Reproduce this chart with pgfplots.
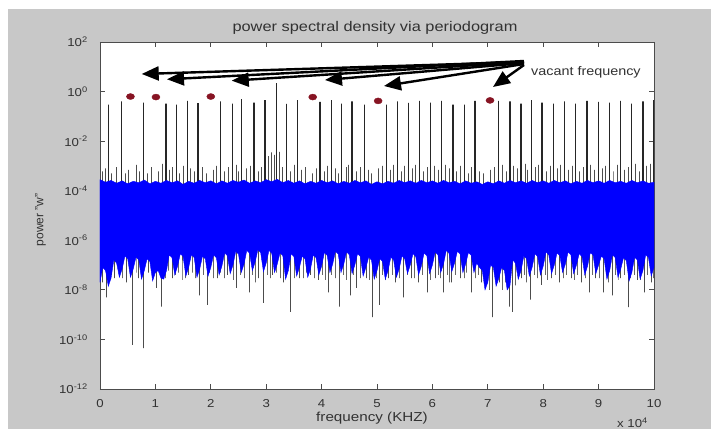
\documentclass[border=0pt]{standalone}
\usepackage{fontspec}
\setmainfont{Liberation Sans}
\usepackage{pgfplots}
\pgfplotsset{compat=1.18}
\usetikzlibrary{arrows.meta}
\definecolor{figgray}{RGB}{200,200,200}
\definecolor{txt}{RGB}{50,50,50}
\definecolor{dotred}{RGB}{135,20,35}
\newcommand\hs[2][1.15]{\scalebox{#1}[1]{#2}}
% pixel frame of the 711x429 figure
\tikzset{px/.style={x=1bp,y=-1bp,shift={(-100bp,389bp)}}}

\begin{document}
\begin{tikzpicture}
\clip (-100bp,-40bp) rectangle (611bp,389bp);
\begin{scope}[px]
  \fill[white] (0,0) rectangle (711,429);
  \fill[figgray] (8,9) rectangle (711,429);
  \node[anchor=base, inner sep=0pt, text=txt, font=\fontsize{14bp}{16bp}\selectfont]
    at (375,32) {\hs[1.17]{power spectral density via periodogram}};
  \node[anchor=base, inner sep=0pt, text=txt, font=\fontsize{13bp}{15bp}\selectfont]
    at (372,422) {\hs[1.17]{frequency (KHZ)}};
  \node[anchor=base, rotate=90, inner sep=0pt, text=txt, font=\fontsize{12bp}{14bp}\selectfont]
    at (43.5,220) {power "w"};
  \node[anchor=base west, inner sep=0pt, text=txt, font=\fontsize{11.5bp}{13bp}\selectfont]
    at (617,428) {\hs{x 10\textsuperscript{4}}};
\end{scope}

\begin{axis}[
    scale only axis,
    width=554bp, height=347bp,
    xmin=0, xmax=10,
    ymode=log, ymin=1e-12, ymax=1e2,
    xtick={0,1,...,10},
    xticklabels={\hs{0},\hs{1},\hs{2},\hs{3},\hs{4},\hs{5},\hs{6},\hs{7},\hs{8},\hs{9},\hs{10}},
    ytick={1e-12,1e-10,1e-8,1e-6,1e-4,1e-2,1,1e2},
    yticklabels={\hs{10\textsuperscript{-12}},\hs{10\textsuperscript{-10}},\hs{10\textsuperscript{-8}},\hs{10\textsuperscript{-6}},\hs{10\textsuperscript{-4}},\hs{10\textsuperscript{-2}},\hs{10\textsuperscript{0}},\hs{10\textsuperscript{2}}},
    yminorticks=false,
    axis background/.style={fill=white},
    axis line style={black!70, line width=0.8bp},
    every tick/.style={black!70, line width=0.8bp},
    major tick length=5bp,
    tick label style={font=\fontsize{11.5bp}{13bp}\selectfont, text=txt},
    xticklabel style={anchor=base, inner sep=0pt, yshift=-18bp},
    yticklabel style={anchor=east, inner sep=0pt, xshift=-12bp},
]
% carrier spikes
\addplot[black!85, line width=1.2bp, line join=bevel] coordinates {
 (0.16,1e-5) (0.16,0.30) (0.16,1e-5)
 (0.39,1e-5) (0.39,0.40) (0.39,1e-5)
 (0.79,1e-5) (0.79,0.36) (0.79,1e-5)
 (1.19,1e-5) (1.19,0.33) (1.19,1e-5)
 (1.38,1e-5) (1.38,0.30) (1.38,1e-5)
 (1.58,1e-5) (1.58,0.42) (1.58,1e-5)
 (1.77,1e-5) (1.77,0.34) (1.77,1e-5)
 (2.17,1e-5) (2.17,0.40) (2.17,1e-5)
 (2.39,1e-5) (2.39,0.33) (2.39,1e-5)
 (2.56,1e-5) (2.56,0.50) (2.56,1e-5)
 (2.78,1e-5) (2.78,0.36) (2.78,1e-5)
 (2.98,1e-5) (2.98,0.45) (2.98,1e-5)
 (3.18,1e-5) (3.18,2.2) (3.18,1e-5)
 (3.37,1e-5) (3.37,0.32) (3.37,1e-5)
 (3.57,1e-5) (3.57,0.45) (3.57,1e-5)
 (3.97,1e-5) (3.97,0.38) (3.97,1e-5)
 (4.18,1e-5) (4.18,0.45) (4.18,1e-5)
 (4.36,1e-5) (4.36,0.33) (4.36,1e-5)
 (4.55,1e-5) (4.55,0.40) (4.55,1e-5)
 (4.77,1e-5) (4.77,0.30) (4.77,1e-5)
 (5.17,1e-5) (5.17,0.30) (5.17,1e-5)
 (5.37,1e-5) (5.37,0.40) (5.37,1e-5)
 (5.57,1e-5) (5.57,0.35) (5.57,1e-5)
 (5.76,1e-5) (5.76,0.42) (5.76,1e-5)
 (5.97,1e-5) (5.97,0.36) (5.97,1e-5)
 (6.17,1e-5) (6.17,0.42) (6.17,1e-5)
 (6.37,1e-5) (6.37,0.30) (6.37,1e-5)
 (6.58,1e-5) (6.58,0.30) (6.58,1e-5)
 (6.77,1e-5) (6.77,0.42) (6.77,1e-5)
 (7.20,1e-5) (7.20,0.42) (7.20,1e-5)
 (7.40,1e-5) (7.40,0.40) (7.40,1e-5)
 (7.60,1e-5) (7.60,0.33) (7.60,1e-5)
 (7.79,1e-5) (7.79,0.45) (7.79,1e-5)
 (7.98,1e-5) (7.98,0.36) (7.98,1e-5)
 (8.18,1e-5) (8.18,0.33) (8.18,1e-5)
 (8.38,1e-5) (8.38,0.40) (8.38,1e-5)
 (8.59,1e-5) (8.59,0.33) (8.59,1e-5)
 (8.79,1e-5) (8.79,0.42) (8.79,1e-5)
 (9.00,1e-5) (9.00,0.38) (9.00,1e-5)
 (9.19,1e-5) (9.19,0.36) (9.19,1e-5)
 (9.40,1e-5) (9.40,0.42) (9.40,1e-5)
 (9.60,1e-5) (9.60,0.33) (9.60,1e-5)
 (9.80,1e-5) (9.80,0.40) (9.80,1e-5)
 (9.99,1e-5) (9.99,0.45) (9.99,1e-5)
};
% small peaks above the noise floor
\addplot[black!70, line width=0.7bp, line join=bevel] coordinates {
 (0.04,1e-5) (0.04,6e-4) (0.04,1e-5)
 (0.09,1e-5) (0.09,8e-4) (0.09,1e-5)
 (0.21,1e-5) (0.21,5e-4) (0.21,1e-5)
 (0.30,1e-5) (0.30,9e-4) (0.30,1e-5)
 (0.45,1e-5) (0.45,5e-4) (0.45,1e-5)
 (0.52,1e-5) (0.52,7e-4) (0.52,1e-5)
 (0.66,1e-5) (0.66,1.1e-3) (0.66,1e-5)
 (0.71,1e-5) (0.71,6e-4) (0.71,1e-5)
 (0.85,1e-5) (0.85,5e-4) (0.85,1e-5)
 (0.93,1e-5) (0.93,9e-4) (0.93,1e-5)
 (1.05,1e-5) (1.05,6e-4) (1.05,1e-5)
 (1.12,1e-5) (1.12,1.2e-3) (1.12,1e-5)
 (1.25,1e-5) (1.25,7e-4) (1.25,1e-5)
 (1.31,1e-5) (1.31,9e-4) (1.31,1e-5)
 (1.44,1e-5) (1.44,5e-4) (1.44,1e-5)
 (1.50,1e-5) (1.50,1.0e-3) (1.50,1e-5)
 (1.63,1e-5) (1.63,8e-4) (1.63,1e-5)
 (1.70,1e-5) (1.70,6e-4) (1.70,1e-5)
 (1.85,1e-5) (1.85,9e-4) (1.85,1e-5)
 (1.92,1e-5) (1.92,5e-4) (1.92,1e-5)
 (2.04,1e-5) (2.04,7e-4) (2.04,1e-5)
 (2.10,1e-5) (2.10,1.0e-3) (2.10,1e-5)
 (2.24,1e-5) (2.24,6e-4) (2.24,1e-5)
 (2.31,1e-5) (2.31,9e-4) (2.31,1e-5)
 (2.46,1e-5) (2.46,1.1e-3) (2.46,1e-5)
 (2.50,1e-5) (2.50,6e-4) (2.50,1e-5)
 (2.64,1e-5) (2.64,8e-4) (2.64,1e-5)
 (2.71,1e-5) (2.71,1.0e-3) (2.71,1e-5)
 (2.86,1e-5) (2.86,6e-4) (2.86,1e-5)
 (2.92,1e-5) (2.92,9e-4) (2.92,1e-5)
 (3.04,1e-5) (3.04,2.5e-3) (3.04,1e-5)
 (3.10,1e-5) (3.10,3.5e-3) (3.10,1e-5)
 (3.14,1e-5) (3.14,2.8e-3) (3.14,1e-5)
 (3.24,1e-5) (3.24,3.7e-3) (3.24,1e-5)
 (3.30,1e-5) (3.30,9e-4) (3.30,1e-5)
 (3.44,1e-5) (3.44,6e-4) (3.44,1e-5)
 (3.50,1e-5) (3.50,1.1e-3) (3.50,1e-5)
 (3.64,1e-5) (3.64,7e-4) (3.64,1e-5)
 (3.71,1e-5) (3.71,9e-4) (3.71,1e-5)
 (3.84,1e-5) (3.84,5e-4) (3.84,1e-5)
 (3.90,1e-5) (3.90,8e-4) (3.90,1e-5)
 (4.05,1e-5) (4.05,6e-4) (4.05,1e-5)
 (4.11,1e-5) (4.11,1.0e-3) (4.11,1e-5)
 (4.25,1e-5) (4.25,8e-4) (4.25,1e-5)
 (4.30,1e-5) (4.30,5e-4) (4.30,1e-5)
 (4.44,1e-5) (4.44,9e-4) (4.44,1e-5)
 (4.49,1e-5) (4.49,1.1e-3) (4.49,1e-5)
 (4.62,1e-5) (4.62,6e-4) (4.62,1e-5)
 (4.70,1e-5) (4.70,9e-4) (4.70,1e-5)
 (4.84,1e-5) (4.84,7e-4) (4.84,1e-5)
 (4.90,1e-5) (4.90,5e-4) (4.90,1e-5)
 (5.03,1e-5) (5.03,8e-4) (5.03,1e-5)
 (5.10,1e-5) (5.10,1.0e-3) (5.10,1e-5)
 (5.24,1e-5) (5.24,7e-4) (5.24,1e-5)
 (5.30,1e-5) (5.30,1.1e-3) (5.30,1e-5)
 (5.44,1e-5) (5.44,6e-4) (5.44,1e-5)
 (5.50,1e-5) (5.50,1.0e-3) (5.50,1e-5)
 (5.64,1e-5) (5.64,8e-4) (5.64,1e-5)
 (5.70,1e-5) (5.70,1.1e-3) (5.70,1e-5)
 (5.84,1e-5) (5.84,6e-4) (5.84,1e-5)
 (5.90,1e-5) (5.90,9e-4) (5.90,1e-5)
 (6.04,1e-5) (6.04,1.0e-3) (6.04,1e-5)
 (6.10,1e-5) (6.10,7e-4) (6.10,1e-5)
 (6.24,1e-5) (6.24,1.1e-3) (6.24,1e-5)
 (6.30,1e-5) (6.30,8e-4) (6.30,1e-5)
 (6.44,1e-5) (6.44,6e-4) (6.44,1e-5)
 (6.51,1e-5) (6.51,1.0e-3) (6.51,1e-5)
 (6.65,1e-5) (6.65,5e-4) (6.65,1e-5)
 (6.71,1e-5) (6.71,9e-4) (6.71,1e-5)
 (6.85,1e-5) (6.85,6e-4) (6.85,1e-5)
 (6.92,1e-5) (6.92,5e-4) (6.92,1e-5)
 (7.05,1e-5) (7.05,7e-4) (7.05,1e-5)
 (7.12,1e-5) (7.12,9e-4) (7.12,1e-5)
 (7.27,1e-5) (7.27,1.1e-3) (7.27,1e-5)
 (7.33,1e-5) (7.33,6e-4) (7.33,1e-5)
 (7.47,1e-5) (7.47,1.0e-3) (7.47,1e-5)
 (7.53,1e-5) (7.53,8e-4) (7.53,1e-5)
 (7.67,1e-5) (7.67,1.2e-3) (7.67,1e-5)
 (7.72,1e-5) (7.72,7e-4) (7.72,1e-5)
 (7.86,1e-5) (7.86,9e-4) (7.86,1e-5)
 (7.92,1e-5) (7.92,1.1e-3) (7.92,1e-5)
 (8.06,1e-5) (8.06,6e-4) (8.06,1e-5)
 (8.12,1e-5) (8.12,1.0e-3) (8.12,1e-5)
 (8.25,1e-5) (8.25,8e-4) (8.25,1e-5)
 (8.31,1e-5) (8.31,1.1e-3) (8.31,1e-5)
 (8.45,1e-5) (8.45,7e-4) (8.45,1e-5)
 (8.52,1e-5) (8.52,1.0e-3) (8.52,1e-5)
 (8.66,1e-5) (8.66,6e-4) (8.66,1e-5)
 (8.72,1e-5) (8.72,9e-4) (8.72,1e-5)
 (8.86,1e-5) (8.86,1.1e-3) (8.86,1e-5)
 (8.92,1e-5) (8.92,7e-4) (8.92,1e-5)
 (9.06,1e-5) (9.06,8e-4) (9.06,1e-5)
 (9.13,1e-5) (9.13,1.0e-3) (9.13,1e-5)
 (9.26,1e-5) (9.26,6e-4) (9.26,1e-5)
 (9.33,1e-5) (9.33,1.1e-3) (9.33,1e-5)
 (9.47,1e-5) (9.47,7e-4) (9.47,1e-5)
 (9.53,1e-5) (9.53,9e-4) (9.53,1e-5)
 (9.67,1e-5) (9.67,1.2e-3) (9.67,1e-5)
 (9.73,1e-5) (9.73,6e-4) (9.73,1e-5)
 (9.86,1e-5) (9.86,1.0e-3) (9.86,1e-5)
 (9.93,1e-5) (9.93,1.2e-3) (9.93,1e-5)
};
% deep dips below the noise floor
\addplot[black!70, line width=0.7bp, line join=bevel] coordinates {
 (0.05,1e-6) (0.05,2e-8) (0.05,1e-6)
 (0.12,1e-6) (0.12,5e-9) (0.12,1e-6)
 (0.20,1e-6) (0.20,4e-8) (0.20,1e-6)
 (0.26,1e-6) (0.26,3e-8) (0.26,1e-6)
 (0.48,1e-6) (0.48,2e-8) (0.48,1e-6)
 (0.59,1e-6) (0.59,6e-11) (0.59,1e-6)
 (0.70,1e-6) (0.70,3e-8) (0.70,1e-6)
 (0.79,1e-6) (0.79,4.5e-11) (0.79,1e-6)
 (0.88,1e-6) (0.88,5e-8) (0.88,1e-6)
 (1.02,1e-6) (1.02,1.2e-8) (1.02,1e-6)
 (1.11,1e-6) (1.11,2.1e-9) (1.11,1e-6)
 (1.30,1e-6) (1.30,3e-8) (1.30,1e-6)
 (1.48,1e-6) (1.48,2.5e-8) (1.48,1e-6)
 (1.60,1e-6) (1.60,4e-8) (1.60,1e-6)
 (1.79,1e-6) (1.79,6e-9) (1.79,1e-6)
 (1.93,1e-6) (1.93,2.5e-9) (1.93,1e-6)
 (2.12,1e-6) (2.12,3e-8) (2.12,1e-6)
 (2.30,1e-6) (2.30,4e-8) (2.30,1e-6)
 (2.47,1e-6) (2.47,1.2e-8) (2.47,1e-6)
 (2.69,1e-6) (2.69,8e-9) (2.69,1e-6)
 (2.85,1e-6) (2.85,3e-8) (2.85,1e-6)
 (2.95,1e-6) (2.95,3e-9) (2.95,1e-6)
 (3.12,1e-6) (3.12,4e-8) (3.12,1e-6)
 (3.31,1e-6) (3.31,2e-8) (3.31,1e-6)
 (3.43,1e-6) (3.43,1.3e-9) (3.43,1e-6)
 (3.60,1e-6) (3.60,3e-8) (3.60,1e-6)
 (3.80,1e-6) (3.80,4e-8) (3.80,1e-6)
 (3.95,1e-6) (3.95,2.5e-8) (3.95,1e-6)
 (4.12,1e-6) (4.12,8e-9) (4.12,1e-6)
 (4.32,1e-6) (4.32,2.1e-9) (4.32,1e-6)
 (4.51,1e-6) (4.51,6e-9) (4.51,1e-6)
 (4.63,1e-6) (4.63,1.2e-8) (4.63,1e-6)
 (4.80,1e-6) (4.80,3e-8) (4.80,1e-6)
 (4.92,1e-6) (4.92,8e-10) (4.92,1e-6)
 (5.04,1e-6) (5.04,2.5e-9) (5.04,1e-6)
 (5.20,1e-6) (5.20,3e-8) (5.20,1e-6)
 (5.33,1e-6) (5.33,2e-8) (5.33,1e-6)
 (5.47,1e-6) (5.47,5e-9) (5.47,1e-6)
 (5.62,1e-6) (5.62,3e-8) (5.62,1e-6)
 (5.75,1e-6) (5.75,2e-8) (5.75,1e-6)
 (5.90,1e-6) (5.90,8e-9) (5.90,1e-6)
 (6.05,1e-6) (6.05,3e-8) (6.05,1e-6)
 (6.19,1e-6) (6.19,8e-9) (6.19,1e-6)
 (6.35,1e-6) (6.35,2e-8) (6.35,1e-6)
 (6.50,1e-6) (6.50,3e-8) (6.50,1e-6)
 (6.71,1e-6) (6.71,8e-9) (6.71,1e-6)
 (6.88,1e-6) (6.88,2e-8) (6.88,1e-6)
 (7.09,1e-6) (7.09,8e-10) (7.09,1e-6)
 (7.20,1e-6) (7.20,2e-8) (7.20,1e-6)
 (7.38,1e-6) (7.38,2.1e-9) (7.38,1e-6)
 (7.44,1e-6) (7.44,1.3e-9) (7.44,1e-6)
 (7.60,1e-6) (7.60,3e-8) (7.60,1e-6)
 (7.76,1e-6) (7.76,4e-9) (7.76,1e-6)
 (7.97,1e-6) (7.97,1.6e-8) (7.97,1e-6)
 (8.15,1e-6) (8.15,3e-8) (8.15,1e-6)
 (8.30,1e-6) (8.30,2e-8) (8.30,1e-6)
 (8.50,1e-6) (8.50,3e-8) (8.50,1e-6)
 (8.68,1e-6) (8.68,2e-8) (8.68,1e-6)
 (8.83,1e-6) (8.83,8e-9) (8.83,1e-6)
 (8.95,1e-6) (8.95,3e-8) (8.95,1e-6)
 (9.08,1e-6) (9.08,8e-9) (9.08,1e-6)
 (9.24,1e-6) (9.24,6e-9) (9.24,1e-6)
 (9.40,1e-6) (9.40,3e-8) (9.40,1e-6)
 (9.53,1e-6) (9.53,2e-9) (9.53,1e-6)
 (9.70,1e-6) (9.70,2.5e-8) (9.70,1e-6)
 (9.82,1e-6) (9.82,8e-9) (9.82,1e-6)
 (9.95,1e-6) (9.95,2e-8) (9.95,1e-6)
};
% short dips fringing the floor
\addplot[black!60, line width=0.6bp, line join=bevel] coordinates {
 (0.16,1e-6) (0.16,4e-8) (0.16,1e-6)
 (0.35,1e-6) (0.35,5e-8) (0.35,1e-6)
 (0.40,1e-6) (0.40,3e-8) (0.40,1e-6)
 (0.55,1e-6) (0.55,4e-8) (0.55,1e-6)
 (0.65,1e-6) (0.65,5e-8) (0.65,1e-6)
 (0.95,1e-6) (0.95,4e-8) (0.95,1e-6)
 (1.07,1e-6) (1.07,5e-8) (1.07,1e-6)
 (1.18,1e-6) (1.18,3e-8) (1.18,1e-6)
 (1.24,1e-6) (1.24,6e-8) (1.24,1e-6)
 (1.36,1e-6) (1.36,4e-8) (1.36,1e-6)
 (1.42,1e-6) (1.42,5e-8) (1.42,1e-6)
 (1.54,1e-6) (1.54,3e-8) (1.54,1e-6)
 (1.66,1e-6) (1.66,5e-8) (1.66,1e-6)
 (1.72,1e-6) (1.72,3e-8) (1.72,1e-6)
 (1.86,1e-6) (1.86,4e-8) (1.86,1e-6)
 (1.98,1e-6) (1.98,5e-8) (1.98,1e-6)
 (2.05,1e-6) (2.05,3e-8) (2.05,1e-6)
 (2.18,1e-6) (2.18,5e-8) (2.18,1e-6)
 (2.24,1e-6) (2.24,3e-8) (2.24,1e-6)
 (2.36,1e-6) (2.36,5e-8) (2.36,1e-6)
 (2.41,1e-6) (2.41,2.5e-8) (2.41,1e-6)
 (2.54,1e-6) (2.54,4e-8) (2.54,1e-6)
 (2.60,1e-6) (2.60,3e-8) (2.60,1e-6)
 (2.75,1e-6) (2.75,4e-8) (2.75,1e-6)
 (2.80,1e-6) (2.80,2e-8) (2.80,1e-6)
 (3.02,1e-6) (3.02,4e-8) (3.02,1e-6)
 (3.07,1e-6) (3.07,3e-8) (3.07,1e-6)
 (3.18,1e-6) (3.18,5e-8) (3.18,1e-6)
 (3.25,1e-6) (3.25,3e-8) (3.25,1e-6)
 (3.37,1e-6) (3.37,4e-8) (3.37,1e-6)
 (3.50,1e-6) (3.50,3e-8) (3.50,1e-6)
 (3.55,1e-6) (3.55,5e-8) (3.55,1e-6)
 (3.67,1e-6) (3.67,3e-8) (3.67,1e-6)
 (3.73,1e-6) (3.73,5e-8) (3.73,1e-6)
 (3.87,1e-6) (3.87,3e-8) (3.87,1e-6)
 (4.02,1e-6) (4.02,4e-8) (4.02,1e-6)
 (4.06,1e-6) (4.06,2.5e-8) (4.06,1e-6)
 (4.18,1e-6) (4.18,4e-8) (4.18,1e-6)
 (4.25,1e-6) (4.25,3e-8) (4.25,1e-6)
 (4.40,1e-6) (4.40,4e-8) (4.40,1e-6)
 (4.45,1e-6) (4.45,2.5e-8) (4.45,1e-6)
 (4.57,1e-6) (4.57,4e-8) (4.57,1e-6)
 (4.70,1e-6) (4.70,3e-8) (4.70,1e-6)
 (4.75,1e-6) (4.75,5e-8) (4.75,1e-6)
 (4.86,1e-6) (4.86,2.5e-8) (4.86,1e-6)
 (4.98,1e-6) (4.98,3e-8) (4.98,1e-6)
 (5.10,1e-6) (5.10,4e-8) (5.10,1e-6)
 (5.15,1e-6) (5.15,2.5e-8) (5.15,1e-6)
 (5.27,1e-6) (5.27,4e-8) (5.27,1e-6)
 (5.40,1e-6) (5.40,3e-8) (5.40,1e-6)
 (5.55,1e-6) (5.55,4e-8) (5.55,1e-6)
 (5.68,1e-6) (5.68,3e-8) (5.68,1e-6)
 (5.82,1e-6) (5.82,4e-8) (5.82,1e-6)
 (5.96,1e-6) (5.96,2.5e-8) (5.96,1e-6)
 (6.10,1e-6) (6.10,4e-8) (6.10,1e-6)
 (6.14,1e-6) (6.14,3e-8) (6.14,1e-6)
 (6.26,1e-6) (6.26,4e-8) (6.26,1e-6)
 (6.30,1e-6) (6.30,2e-8) (6.30,1e-6)
 (6.42,1e-6) (6.42,4e-8) (6.42,1e-6)
 (6.57,1e-6) (6.57,3e-8) (6.57,1e-6)
 (6.62,1e-6) (6.62,5e-8) (6.62,1e-6)
 (6.78,1e-6) (6.78,3e-8) (6.78,1e-6)
 (6.83,1e-6) (6.83,4e-8) (6.83,1e-6)
 (6.95,1e-6) (6.95,1.2e-8) (6.95,1e-6)
 (7.02,1e-6) (7.02,1e-8) (7.02,1e-6)
 (7.15,1e-6) (7.15,1.5e-8) (7.15,1e-6)
 (7.26,1e-6) (7.26,1e-8) (7.26,1e-6)
 (7.32,1e-6) (7.32,2e-8) (7.32,1e-6)
 (7.50,1e-6) (7.50,1.5e-8) (7.50,1e-6)
 (7.55,1e-6) (7.55,3e-8) (7.55,1e-6)
 (7.66,1e-6) (7.66,4e-8) (7.66,1e-6)
 (7.70,1e-6) (7.70,2e-8) (7.70,1e-6)
 (7.84,1e-6) (7.84,4e-8) (7.84,1e-6)
 (7.90,1e-6) (7.90,3e-8) (7.90,1e-6)
 (8.03,1e-6) (8.03,4e-8) (8.03,1e-6)
 (8.08,1e-6) (8.08,2.5e-8) (8.08,1e-6)
 (8.22,1e-6) (8.22,4e-8) (8.22,1e-6)
 (8.36,1e-6) (8.36,3e-8) (8.36,1e-6)
 (8.42,1e-6) (8.42,4e-8) (8.42,1e-6)
 (8.56,1e-6) (8.56,2.5e-8) (8.56,1e-6)
 (8.62,1e-6) (8.62,4e-8) (8.62,1e-6)
 (8.76,1e-6) (8.76,3e-8) (8.76,1e-6)
 (8.88,1e-6) (8.88,4e-8) (8.88,1e-6)
 (9.02,1e-6) (9.02,3e-8) (9.02,1e-6)
 (9.14,1e-6) (9.14,4e-8) (9.14,1e-6)
 (9.18,1e-6) (9.18,2e-8) (9.18,1e-6)
 (9.30,1e-6) (9.30,4e-8) (9.30,1e-6)
 (9.35,1e-6) (9.35,2.5e-8) (9.35,1e-6)
 (9.46,1e-6) (9.46,4e-8) (9.46,1e-6)
 (9.58,1e-6) (9.58,3e-8) (9.58,1e-6)
 (9.64,1e-6) (9.64,4e-8) (9.64,1e-6)
 (9.76,1e-6) (9.76,2.5e-8) (9.76,1e-6)
 (9.88,1e-6) (9.88,4e-8) (9.88,1e-6)
 (9.98,1e-6) (9.98,3e-8) (9.98,1e-6)
};
% noise floor band: upper envelope left to right, lower envelope right to left
\addplot[draw=blue, fill=blue, line width=0.4bp] coordinates {
 (0.0,2.8e-4) (0.1,2.2e-4) (0.2,2.6e-4) (0.3,2.0e-4) (0.4,2.5e-4) (0.5,1.9e-4) (0.6,2.4e-4) (0.7,2.1e-4) (0.8,2.7e-4) (0.9,1.9e-4)
 (1.0,2.4e-4) (1.1,2.0e-4) (1.2,2.6e-4) (1.3,2.1e-4) (1.4,2.5e-4) (1.5,1.8e-4) (1.6,2.4e-4) (1.7,2.0e-4) (1.8,2.6e-4) (1.9,2.1e-4)
 (2.0,2.5e-4) (2.1,1.9e-4) (2.2,2.5e-4) (2.3,2.0e-4) (2.4,2.6e-4) (2.5,2.2e-4) (2.6,2.7e-4) (2.7,2.0e-4) (2.8,2.5e-4) (2.9,2.1e-4)
 (3.0,2.8e-4) (3.1,2.3e-4) (3.2,2.9e-4) (3.3,2.1e-4) (3.4,2.6e-4) (3.5,2.0e-4) (3.6,2.5e-4) (3.7,1.9e-4) (3.8,2.4e-4) (3.9,2.0e-4)
 (4.0,2.6e-4) (4.1,2.1e-4) (4.2,2.5e-4) (4.3,1.9e-4) (4.4,2.4e-4) (4.5,2.0e-4) (4.6,2.6e-4) (4.7,2.1e-4) (4.8,2.5e-4) (4.9,1.8e-4)
 (5.0,2.3e-4) (5.1,1.9e-4) (5.2,2.4e-4) (5.3,2.0e-4) (5.4,2.6e-4) (5.5,2.1e-4) (5.6,2.5e-4) (5.7,2.0e-4) (5.8,2.6e-4) (5.9,2.1e-4)
 (6.0,2.5e-4) (6.1,2.0e-4) (6.2,2.6e-4) (6.3,2.1e-4) (6.4,2.4e-4) (6.5,1.9e-4) (6.6,2.5e-4) (6.7,2.0e-4) (6.8,2.3e-4) (6.9,1.8e-4)
 (7.0,2.3e-4) (7.1,1.9e-4) (7.2,2.5e-4) (7.3,2.0e-4) (7.4,2.6e-4) (7.5,2.1e-4) (7.6,2.5e-4) (7.7,2.0e-4) (7.8,2.6e-4) (7.9,2.1e-4)
 (8.0,2.5e-4) (8.1,2.0e-4) (8.2,2.6e-4) (8.3,2.1e-4) (8.4,2.5e-4) (8.5,1.9e-4) (8.6,2.4e-4) (8.7,2.0e-4) (8.8,2.6e-4) (8.9,2.1e-4)
 (9.0,2.5e-4) (9.1,2.0e-4) (9.2,2.6e-4) (9.3,2.1e-4) (9.4,2.4e-4) (9.5,2.0e-4) (9.6,2.6e-4) (9.7,2.1e-4) (9.8,2.5e-4) (9.9,2.0e-4) (10.0,2.2e-4)
 (10.0,8e-8) (9.95,3.6e-8) (9.9,2e-7) (9.85,2.6e-7) (9.8,6e-8) (9.75,2.7e-8) (9.7,1.6e-7) (9.65,2.1e-7) (9.6,5e-8) (9.55,2.3e-8)
 (9.5,1.5e-7) (9.45,2e-7) (9.4,7e-8) (9.35,3.2e-8) (9.3,2e-7) (9.25,2.6e-7) (9.2,6e-8) (9.15,2.7e-8) (9.1,1.8e-7) (9.05,2.3e-7)
 (9.0,1e-7) (8.95,4.5e-8) (8.9,2.5e-7) (8.85,3.2e-7) (8.8,9e-8) (8.75,4e-8) (8.7,2.2e-7) (8.65,2.9e-7) (8.6,1e-7) (8.55,4.5e-8)
 (8.5,2.6e-7) (8.45,3.4e-7) (8.4,1.1e-7) (8.35,5e-8) (8.3,2.4e-7) (8.25,3.1e-7) (8.2,1e-7) (8.15,4.5e-8) (8.1,2.6e-7) (8.05,3.4e-7)
 (8.0,9e-8) (7.95,4e-8) (7.9,2.2e-7) (7.85,2.9e-7) (7.8,8e-8) (7.75,3.6e-8) (7.7,1.8e-7) (7.65,2.3e-7) (7.6,6e-8) (7.55,2.7e-8)
 (7.5,1.2e-7) (7.45,1.6e-7) (7.4,1.5e-8) (7.35,1e-8) (7.3,6e-8) (7.25,8e-8) (7.2,3e-8) (7.15,1.4e-8) (7.1,8e-8) (7.05,1e-7)
 (7.0,2e-8) (6.95,1e-8) (6.9,6e-8) (6.85,8e-8) (6.8,1.2e-7) (6.75,5e-8) (6.7,2.5e-7) (6.65,3.2e-7) (6.6,1.1e-7) (6.55,5e-8)
 (6.5,2.8e-7) (6.45,3.6e-7) (6.4,1.2e-7) (6.35,5.4e-8) (6.3,3e-7) (6.25,3.9e-7) (6.2,1.1e-7) (6.15,5e-8) (6.1,2.6e-7) (6.05,3.4e-7)
 (6.0,1e-7) (5.95,4.5e-8) (5.9,2.4e-7) (5.85,3.1e-7) (5.8,9e-8) (5.75,4e-8) (5.7,2.2e-7) (5.65,2.9e-7) (5.6,1e-7) (5.55,4.5e-8)
 (5.5,1.8e-7) (5.45,2.3e-7) (5.4,7e-8) (5.35,3.2e-8) (5.3,1.6e-7) (5.25,2.1e-7) (5.2,6e-8) (5.15,2.7e-8) (5.1,1.4e-7) (5.05,1.8e-7)
 (5.0,6e-8) (4.95,2.7e-8) (4.9,1.6e-7) (4.85,2.1e-7) (4.8,8e-8) (4.75,3.6e-8) (4.7,2.2e-7) (4.65,2.9e-7) (4.6,1e-7) (4.55,4.5e-8)
 (4.5,2.6e-7) (4.45,3.4e-7) (4.4,1.1e-7) (4.35,5e-8) (4.3,2.8e-7) (4.25,3.6e-7) (4.2,1.1e-7) (4.15,5e-8) (4.1,2.5e-7) (4.05,3.2e-7)
 (4.0,9e-8) (3.95,4e-8) (3.9,2e-7) (3.85,2.6e-7) (3.8,7e-8) (3.75,3.2e-8) (3.7,1.8e-7) (3.65,2.3e-7) (3.6,8e-8) (3.55,3.6e-8)
 (3.5,2.2e-7) (3.45,2.9e-7) (3.4,6e-8) (3.35,2.7e-8) (3.3,2.4e-7) (3.25,3.1e-7) (3.2,1.1e-7) (3.15,5e-8) (3.1,3e-7) (3.05,3.9e-7)
 (3.0,1.2e-7) (2.95,5.4e-8) (2.9,3.2e-7) (2.85,4.2e-7) (2.8,1.3e-7) (2.75,6e-8) (2.7,3e-7) (2.65,3.9e-7) (2.6,1.1e-7) (2.55,5e-8)
 (2.5,2.8e-7) (2.45,3.6e-7) (2.4,1e-7) (2.35,4.5e-8) (2.3,2.4e-7) (2.25,3.1e-7) (2.2,9e-8) (2.15,4e-8) (2.1,2e-7) (2.05,2.6e-7)
 (2.0,8e-8) (1.95,3.6e-8) (1.9,1.8e-7) (1.85,2.3e-7) (1.8,7e-8) (1.75,3.2e-8) (1.7,2e-7) (1.65,2.6e-7) (1.6,8e-8) (1.55,3.6e-8)
 (1.5,2.2e-7) (1.45,2.9e-7) (1.4,9e-8) (1.35,4e-8) (1.3,2e-7) (1.25,2.6e-7) (1.2,6e-8) (1.15,2.7e-8) (1.1,3e-8) (1.05,6e-8)
 (1.0,5e-8) (0.95,2.3e-8) (0.9,1.4e-7) (0.85,1.8e-7) (0.8,6e-8) (0.75,2.7e-8) (0.7,1.6e-7) (0.65,2.1e-7) (0.6,7e-8) (0.55,3.2e-8)
 (0.5,1.8e-7) (0.45,2.3e-7) (0.4,7e-8) (0.35,3.2e-8) (0.3,1.2e-7) (0.25,1.6e-7) (0.2,3e-8) (0.15,1.4e-8) (0.1,6e-8) (0.05,8e-8) (0.0,2e-8)
} -- cycle;
% vacant frequencies
\addplot[only marks, mark=*, mark size=3bp, mark options={fill=dotred, draw=dotred, xscale=1.35}] coordinates {
 (0.55,0.63) (1.01,0.60) (2.00,0.63) (3.84,0.60) (5.02,0.42) (7.04,0.44)
};
\end{axis}

\begin{scope}[px, line width=2.4bp, -{Triangle[length=17bp, width=14bp]}]
  \draw (524,62) -- (141.7,74);
  \draw (524,61) -- (167,79.3);
  \draw (524,62) -- (231.7,80.7);
  \draw (524,63) -- (325,80);
  \draw (524,64) -- (384,86);
  \draw (524,65) -- (493,87);
\end{scope}
\node[px, anchor=base west, inner sep=0pt, text=txt, font=\fontsize{12.5bp}{14bp}\selectfont]
  at (531,76) {\hs{vacant frequency}};
\end{tikzpicture}
\end{document}
